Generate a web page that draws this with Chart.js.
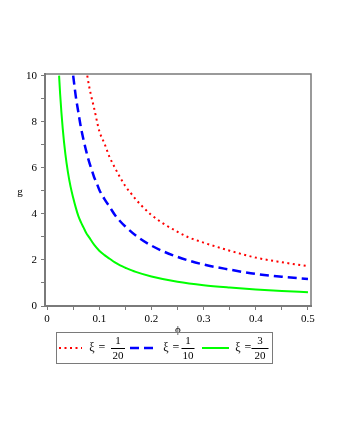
<!DOCTYPE html>
<html><head><meta charset="utf-8">
<script src="https://cdn.jsdelivr.net/npm/chart.js@4"></script>
<style>html,body{margin:0;padding:0;background:#fff}#w{width:340px;height:440px}</style>
</head><body><div id="w"><canvas id="c" width="340" height="440"></canvas></div>
<script>
const phiRed = [0.077,0.08,0.085,0.09,0.1,0.11,0.12,0.13,0.14,0.15,0.16,0.17,0.18,0.2,0.22,0.25,0.27,0.3,0.35,0.4,0.45,0.5];
const gRed   = [10.0,9.6,9.07,8.6,7.6,7.05,6.45,6.0,5.58,5.2,4.91,4.63,4.38,3.95,3.62,3.22,2.99,2.75,2.4,2.1,1.9,1.73];
const phiBlue = [0.05,0.055,0.06,0.065,0.07,0.075,0.08,0.085,0.09,0.095,0.1,0.11,0.12,0.13,0.14,0.15,0.17,0.2,0.25,0.3,0.35,0.4,0.45,0.5];
const gBlue   = [10.0,9.1,8.4,7.73,7.2,6.72,6.3,5.95,5.6,5.34,5.05,4.64,4.3,3.95,3.68,3.45,3.06,2.62,2.13,1.8,1.58,1.39,1.27,1.17];
const phiGreen = [0.023,0.025,0.03,0.035,0.04,0.045,0.05,0.055,0.06,0.065,0.07,0.075,0.08,0.09,0.1,0.11,0.12,0.13,0.14,0.15,0.17,0.2,0.25,0.3,0.35,0.4,0.45,0.5];
const gGreen   = [10.0,9.2,7.7,6.6,5.8,5.18,4.7,4.27,3.9,3.63,3.4,3.17,3.0,2.66,2.4,2.21,2.05,1.89,1.76,1.66,1.48,1.28,1.05,0.9,0.8,0.72,0.65,0.6];
const seriesLabels = ["1/20","1/10","3/20"];
const xTicks = [0,0.1,0.2,0.3,0.4,0.5];
const xMinor = [0,0.05,0.1,0.15,0.2,0.25,0.3,0.35,0.4,0.45,0.5];
const yTicks = [0,2,4,6,8,10];
const yMinor = [0,1,2,3,4,5,6,7,8,9,10];

const pts = (xs, ys) => xs.map((x,i)=>({x:x,y:ys[i]}));
const AX = '#7a7a7a';
const serif = '"Liberation Serif","DejaVu Serif",serif';

const extras = {
  id:'extras',
  afterDraw(chart){
    const ctx = chart.ctx, a = chart.chartArea;
    ctx.save();
    ctx.strokeStyle = AX; ctx.lineWidth = 1.5;
    ctx.beginPath();
    ctx.moveTo(a.left, a.top); ctx.lineTo(a.right, a.top); ctx.lineTo(a.right, a.bottom);
    ctx.stroke();
    ctx.fillStyle = '#000';
    ctx.font = '11px ' + serif;
    ctx.textAlign = 'center'; ctx.textBaseline = 'middle';
    ctx.fillText('g', 20, 192);
    ctx.fillText('ϕ', 178, 330);
    ctx.strokeStyle = AX; ctx.lineWidth = 1;
    ctx.strokeRect(56.5, 332.5, 216, 31);
    const items = [
      {c:'#ff0000', dash:[2,3.5], w:2, x0:59, x1:82, xi:92, num:'1', den:'20', fc:118, fw:14},
      {c:'#0000ff', dash:[9,5], w:2.5, x0:130, x1:157, xi:166, num:'1', den:'10', fc:188, fw:13},
      {c:'#00ff00', dash:[], w:2, x0:202, x1:229, xi:238, num:'3', den:'20', fc:260, fw:17}
    ];
    const ly = 348;
    items.forEach(it=>{
      ctx.strokeStyle = it.c; ctx.lineWidth = it.w; ctx.setLineDash(it.dash);
      ctx.beginPath(); ctx.moveTo(it.x0, ly); ctx.lineTo(it.x1, ly); ctx.stroke();
      ctx.setLineDash([]);
      ctx.fillStyle = '#000';
      ctx.font = '12px ' + serif;
      ctx.textAlign = 'center'; ctx.textBaseline = 'middle';
      ctx.fillText('ξ', it.xi, ly);
      ctx.fillText('=', it.xi + 10, ly);
      ctx.font = '11px ' + serif;
      ctx.fillText(it.num, it.fc, ly - 7);
      ctx.fillText(it.den, it.fc, ly + 8);
      ctx.strokeStyle = '#000'; ctx.lineWidth = 1;
      ctx.beginPath(); ctx.moveTo(it.fc - it.fw/2, ly + 0.5); ctx.lineTo(it.fc + it.fw/2, ly + 0.5); ctx.stroke();
    });
    ctx.restore();
  }
};

new Chart(document.getElementById('c'), {
  type:'line',
  data:{datasets:[
    {label:'ξ = '+seriesLabels[0], data:pts(phiRed,gRed), borderColor:'#ff0000', borderWidth:2, borderDash:[2,3.5], pointRadius:0, cubicInterpolationMode:'monotone', fill:false},
    {label:'ξ = '+seriesLabels[1], data:pts(phiBlue,gBlue), borderColor:'#0000ff', borderWidth:2.5, borderDash:[9,5], pointRadius:0, cubicInterpolationMode:'monotone', fill:false},
    {label:'ξ = '+seriesLabels[2], data:pts(phiGreen,gGreen), borderColor:'#00ff00', borderWidth:2, pointRadius:0, cubicInterpolationMode:'monotone', fill:false}
  ]},
  options:{
    responsive:false, animation:false,
    layout:{padding:{left:0, top:74, right:29, bottom:0}},
    plugins:{legend:{display:false}, tooltip:{enabled:false}},
    scales:{
      x:{type:'linear', min:-0.004, max:0.5058,
        afterFit(s){ s.height = 440 - 306; },
        afterBuildTicks(s){ s.ticks = xMinor.map(v=>({value:v})); },
        border:{color:AX, width:2},
        grid:{drawOnChartArea:false, drawTicks:true, tickLength:4, color:AX, tickWidth:1},
        ticks:{autoSkip:false, maxRotation:0, padding:3, color:'#000', font:{family:serif, size:11},
          callback:(v)=>{ const r = Math.round(v*10)/10; return Math.abs(v-r)<1e-6 && xTicks.includes(r) ? (r===0?'0':String(r)) : ''; }}
      },
      y:{type:'linear', min:0, max:10.07,
        afterFit(s){ s.width = 45; },
        afterBuildTicks(s){ s.ticks = yMinor.map(v=>({value:v})); },
        border:{color:AX, width:2},
        grid:{drawOnChartArea:false, drawTicks:true, tickLength:4, color:AX, tickWidth:1},
        ticks:{autoSkip:false, padding:4, color:'#000', font:{family:serif, size:11},
          callback:(v)=> yTicks.includes(v) ? String(v) : ''}
      }
    }
  },
  plugins:[extras]
});
</script></body></html>
